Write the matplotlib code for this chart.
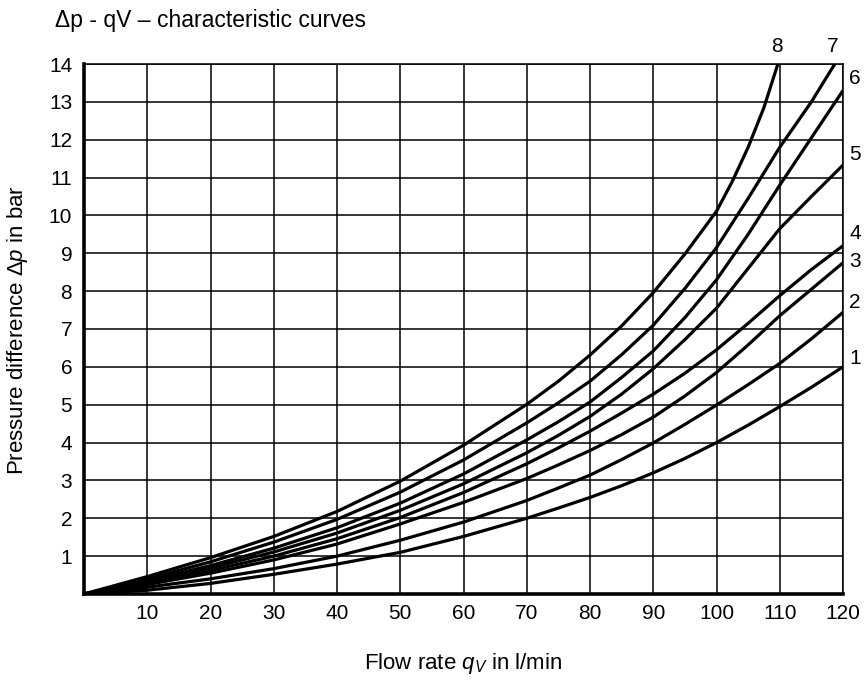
import matplotlib.pyplot as plt

# --- data (flow rate in l/min, pressure difference in bar) ---
q_std = [0, 10, 20, 30, 40, 50, 60, 70, 75, 80, 85, 90, 95, 100, 105, 110, 115, 120]

dp_1 = [0, 0.10, 0.28, 0.52, 0.79, 1.10, 1.52, 2.00, 2.27, 2.55, 2.86, 3.20, 3.58, 4.00, 4.46, 4.95, 5.46, 6.00]
dp_2 = [0, 0.18, 0.40, 0.67, 1.00, 1.42, 1.90, 2.47, 2.80, 3.14, 3.55, 3.99, 4.48, 4.99, 5.53, 6.09, 6.74, 7.44]
dp_3 = [0, 0.25, 0.55, 0.90, 1.32, 1.85, 2.42, 3.05, 3.41, 3.79, 4.21, 4.67, 5.23, 5.85, 6.58, 7.35, 8.05, 8.75]
dp_4 = [0, 0.29, 0.62, 1.00, 1.46, 2.02, 2.68, 3.44, 3.86, 4.30, 4.78, 5.28, 5.83, 6.45, 7.15, 7.88, 8.57, 9.20]
dp_5 = [0, 0.32, 0.69, 1.11, 1.61, 2.21, 2.91, 3.73, 4.19, 4.69, 5.28, 5.95, 6.72, 7.55, 8.60, 9.65, 10.50, 11.33]
dp_6 = [0, 0.35, 0.75, 1.21, 1.75, 2.40, 3.17, 4.07, 4.55, 5.07, 5.72, 6.42, 7.30, 8.30, 9.50, 10.80, 12.05, 13.30]

q_7 = [0, 10, 20, 30, 40, 50, 60, 70, 75, 80, 85, 90, 95, 100, 105, 110, 115, 118.7]
dp_7 = [0, 0.40, 0.85, 1.37, 1.97, 2.69, 3.54, 4.52, 5.05, 5.62, 6.32, 7.10, 8.07, 9.15, 10.45, 11.80, 13.00, 14.0]

q_8 = [0, 10, 20, 30, 40, 50, 60, 70, 75, 80, 85, 90, 95, 100, 102.5, 105, 107.5, 109.7]
dp_8 = [0, 0.46, 0.96, 1.52, 2.18, 2.98, 3.93, 5.01, 5.62, 6.31, 7.08, 7.96, 8.98, 10.11, 10.90, 11.80, 12.85, 14.0]

curve_names = ['1', '2', '3', '4', '5', '6', '7', '8']
curve_q = [q_std, q_std, q_std, q_std, q_std, q_std, q_7, q_8]
curve_dp = [dp_1, dp_2, dp_3, dp_4, dp_5, dp_6, dp_7, dp_8]

x_ticks = [10, 20, 30, 40, 50, 60, 70, 80, 90, 100, 110, 120]
y_ticks = [1, 2, 3, 4, 5, 6, 7, 8, 9, 10, 11, 12, 13, 14]

# where the curve numbers sit (data coords)
label_pos = {
    '1': (121.9, 6.23), '2': (121.9, 7.69), '3': (121.9, 8.77),
    '4': (121.9, 9.53), '5': (121.9, 11.6), '6': (121.9, 13.63),
    '7': (118.4, 14.45), '8': (109.6, 14.45),
}

plt.rcParams['font.family'] = ['Liberation Sans', 'DejaVu Sans']
plt.rcParams['mathtext.fontset'] = 'custom'
plt.rcParams['mathtext.rm'] = 'Liberation Sans'
plt.rcParams['mathtext.it'] = 'Liberation Sans:italic'

fig = plt.figure(figsize=(8.64, 6.8), dpi=100)
ax = fig.add_axes([84 / 864, 1 - 594 / 680, (843 - 84) / 864, (594 - 64) / 680])

for q, dp in zip(curve_q, curve_dp):
    ax.plot(q, dp, color='black', linewidth=2.3, solid_capstyle='butt',
            solid_joinstyle='round', zorder=3)

ax.set_xlim(0, 120)
ax.set_ylim(0, 14)
ax.set_xticks(x_ticks)
ax.set_yticks(y_ticks)
ax.tick_params(length=0, labelsize=15, colors='black')
ax.tick_params(axis='x', pad=7.5)
ax.tick_params(axis='y', pad=8.5)

ax.grid(True, color='black', linewidth=1.1)
for side in ['top', 'right']:
    ax.spines[side].set_linewidth(1.1)
for side in ['left', 'bottom']:
    ax.spines[side].set_linewidth(2.6)

for name in curve_names:
    lx, ly = label_pos[name]
    ax.text(lx, ly, name, fontsize=15, ha='center', va='center', clip_on=False)

fig.text(55 / 864, 1 - 20 / 680, '\u0394p - qV \u2013 characteristic curves',
         fontsize=16.5, ha='left', va='center')
fig.text(18 / 864, 1 - 330 / 680, r'Pressure difference $\mathit{\Delta p}$ in bar',
         fontsize=16, rotation=90, ha='center', va='center')
fig.text(463 / 864, 1 - 663 / 680, r'Flow rate $\mathit{q_V}$ in l/min',
         fontsize=16, ha='center', va='center')

fig.savefig('out.png', dpi=100)
